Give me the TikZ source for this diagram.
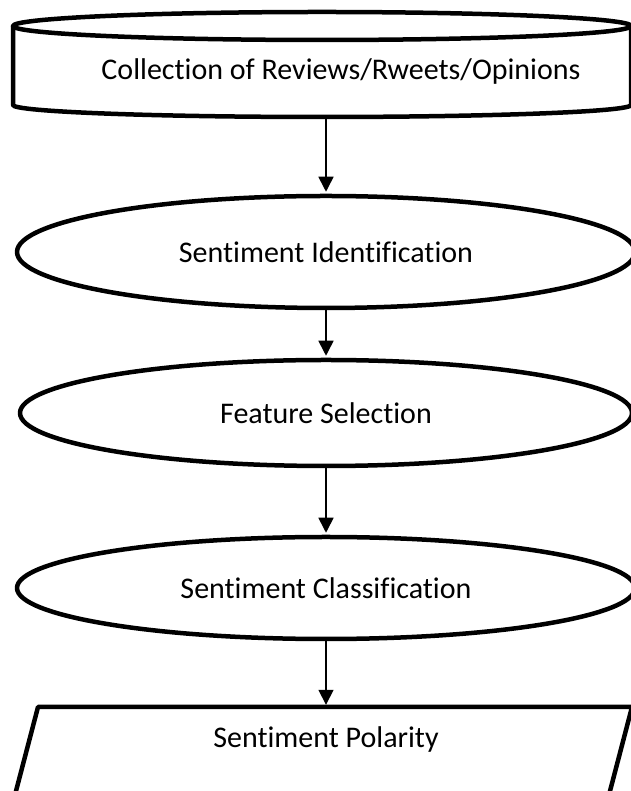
\documentclass[tikz,border=0pt]{standalone}
\usepackage{fontspec}
\setmainfont{Carlito}[RawFeature={-liga}]
\usetikzlibrary{shapes.geometric,arrows.meta,calc}
\begin{document}
\begin{tikzpicture}[x=1pt,y=1pt,
  shapeline/.style={line width=4.5pt, draw=black, line join=round},
  labelfont/.style={font=\fontsize{30}{36}\selectfont},
  proc/.style={ellipse, shapeline, inner sep=0pt, labelfont},
  txt/.style={inner sep=0pt, labelfont},
  flow/.style={line width=1.6pt, -{Triangle[width=15pt,length=15pt]}, shorten >=2pt}]
\useasboundingbox (0,0) rectangle (630,791);
% data store (cylinder)
\draw[shapeline] (13,765) -- (13,686) arc[start angle=180,end angle=360,x radius=309,y radius=12] -- (631,765);
\draw[shapeline] (322,765) ellipse[x radius=309, y radius=14];
\node[txt, minimum height=90pt] (coll) at (341,719) {Collection of Reviews/Rweets/Opinions};
% processes
\node[proc, minimum width=618pt, minimum height=112pt] (ident) at (326,539) {Sentiment Identification};
\node[proc, minimum width=612pt, minimum height=106pt] (feat) at (326,378) {Feature Selection};
\node[proc, minimum width=618pt, minimum height=102pt] (clas) at (326,203) {Sentiment Classification};
% output (parallelogram)
\draw[shapeline] (13.4,-10) -- (38,84) -- (632,84) -- (607.4,-10) -- cycle;
\node[txt, minimum height=66pt] (pol) at (326,51) {Sentiment Polarity};
% connectors
\draw[flow] (coll.south -| ident.north) -- (ident.north);
\draw[flow] (ident.south) -- (feat.north);
\draw[flow] (feat.south) -- (clas.north);
\draw[flow] (clas.south) -- (pol.north);
\end{tikzpicture}
\end{document}
